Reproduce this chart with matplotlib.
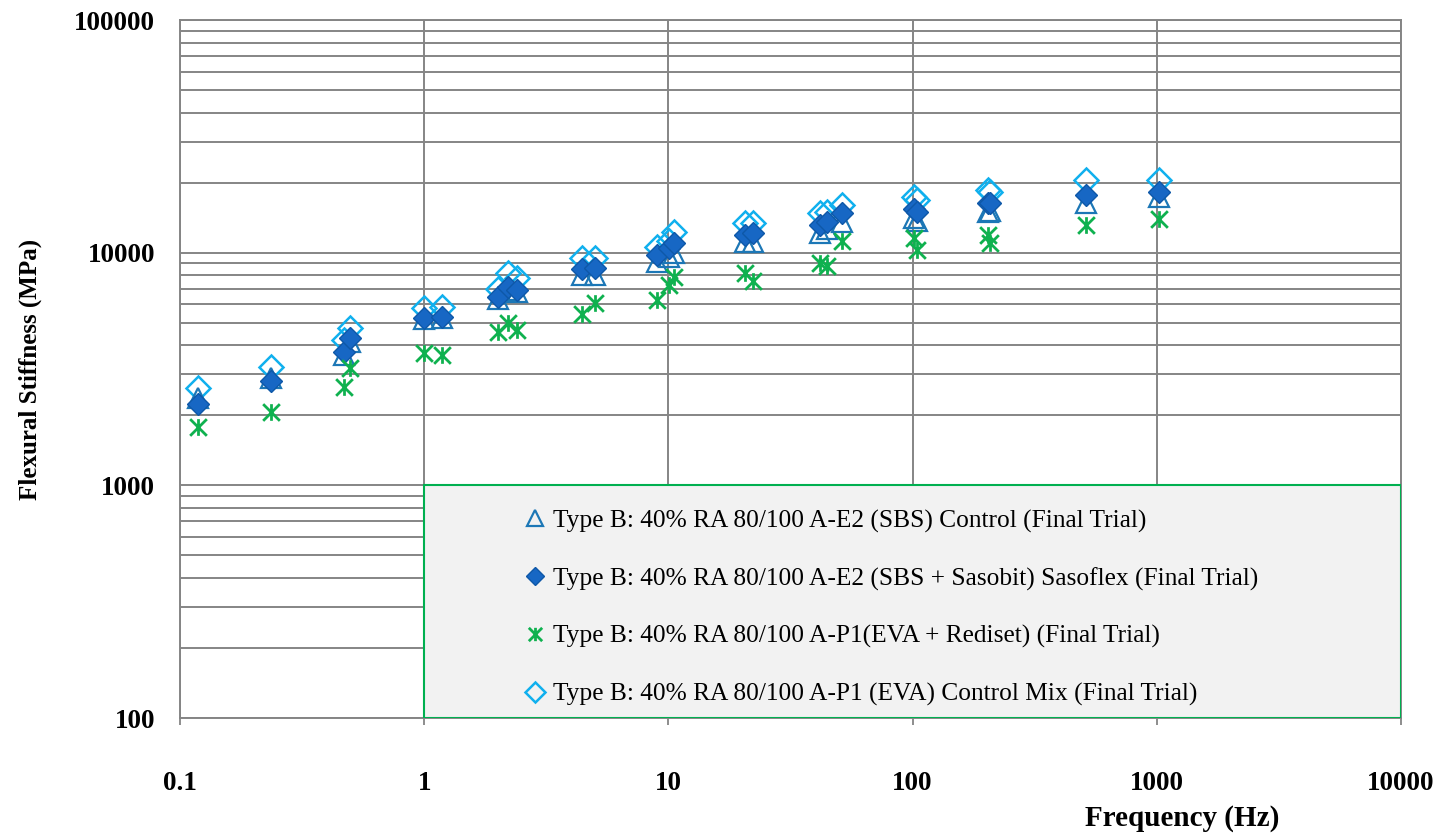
import matplotlib
matplotlib.use('Agg')
import matplotlib.pyplot as plt
from matplotlib.path import Path
from matplotlib.patches import Rectangle
from matplotlib.ticker import FixedLocator, FixedFormatter, LogLocator, NullFormatter

plt.rcParams['font.family'] = ['Liberation Serif', 'DejaVu Serif']

# test frequencies (Hz)
freq = [0.118, 0.236, 0.471, 0.497, 1.0, 1.18, 2.0, 2.21, 2.39, 4.42, 5.0,
        8.95, 10.1, 10.5, 20.6, 22.3, 41.7, 44.5, 51.3, 101, 104, 204, 208, 513, 1021]

# flexural stiffness (MPa) for each mix
sbs_control = [2375, 2900, 3650, 4150, 5200, 5250, 6300, 6900, 6800, 8020, 8020,
               9150, 9610, 10000, 11150, 11150, 12120, 12700, 13600, 14050, 13700,
               15000, 15100, 16300, 17400]
sbs_sasobit = [2238, 2818, 3753, 4280, 5250, 5309, 6470, 7144, 6913, 8490, 8570,
               9775, 10500, 11000, 11920, 12120, 13150, 13590, 14770, 15370, 15000,
               16300, 16400, 17700, 18290]
eva_rediset = [1787, 2073, 2655, 3205, 3694, 3634, 4576, 5003, 4654, 5452, 6060,
               6263, 7265, 7840, 8155, 7580, 9060, 8770, 11260, 11530, 10270,
               11920, 10980, 13150, 13920]
eva_control = [2614, 3237, 4215, 4747, 5803, 5861, 6990, 8155, 7762, 9460, 9460,
               10610, 11200, 12310, 13380, 13460, 14770, 15010, 16030, 17400, 16900,
               18600, 18300, 20535, 20535]

labels = ['Type B: 40% RA 80/100 A-E2 (SBS) Control (Final Trial)',
          'Type B: 40% RA 80/100 A-E2 (SBS + Sasobit) Sasoflex (Final Trial)',
          'Type B: 40% RA 80/100 A-P1(EVA + Rediset) (Final Trial)',
          'Type B: 40% RA 80/100 A-P1 (EVA) Control Mix (Final Trial)']

x_ticks = [0.1, 1, 10, 100, 1000, 10000]
x_tick_labels = ['0.1', '1', '10', '100', '1000', '10000']
y_ticks = [100, 1000, 10000, 100000]
y_tick_labels = ['100', '1000', '10000', '100000']

# excel style star: an X with a vertical bar through it
star = Path([(-1, -1), (1, 1), (-1, 1), (1, -1), (0, -1), (0, 1)],
            [Path.MOVETO, Path.LINETO, Path.MOVETO, Path.LINETO, Path.MOVETO, Path.LINETO])

fig = plt.figure(figsize=(14.47, 8.35), dpi=100)
ax = fig.add_axes([180/1447, 1 - 718/835, 1221/1447, 698/835])

grid_col = '#858585'

# open diamonds first so the filled ones sit on top
p4, = ax.plot(freq, eva_control, linestyle='none', marker='D', markersize=12.5,
              markerfacecolor='none', markeredgecolor='#10b0ee', markeredgewidth=1.8, zorder=4)
p1, = ax.plot(freq, sbs_control, linestyle='none', marker='^', markersize=14,
              markerfacecolor='none', markeredgecolor='#1c77b6', markeredgewidth=1.6, zorder=5)
p2, = ax.plot(freq, sbs_sasobit, linestyle='none', marker='D', markersize=11.5,
              markerfacecolor='#1767c4', markeredgecolor='#0e58a8', markeredgewidth=1.0, zorder=6)
p3, = ax.plot(freq, eva_rediset, linestyle='none', marker=star, markersize=12,
              markeredgecolor='#0fb14f', markeredgewidth=2.0, zorder=7)

ax.set_xscale('log')
ax.set_yscale('log')
ax.set_xlim(0.1, 10000)
ax.set_ylim(100, 100000)

ax.xaxis.set_major_locator(FixedLocator(x_ticks))
ax.xaxis.set_major_formatter(FixedFormatter(x_tick_labels))
ax.xaxis.set_minor_locator(FixedLocator([]))
ax.yaxis.set_major_locator(FixedLocator(y_ticks))
ax.yaxis.set_major_formatter(FixedFormatter(y_tick_labels))
ax.yaxis.set_minor_locator(LogLocator(base=10, subs=range(2, 10)))
ax.yaxis.set_minor_formatter(NullFormatter())

ax.grid(True, which='major', axis='both', color=grid_col, linewidth=1.4)
ax.grid(True, which='minor', axis='y', color=grid_col, linewidth=1.4)
ax.set_axisbelow(True)
for s in ax.spines.values():
    s.set_color(grid_col)
    s.set_linewidth(1.4)

ax.tick_params(axis='x', which='major', length=5, width=1.3, color=grid_col, pad=33,
               labelsize=19.5)
ax.tick_params(axis='y', which='both', length=0, pad=18, labelsize=19.5)
for t in ax.get_xticklabels() + ax.get_yticklabels():
    t.set_fontweight('bold')

# legend panel in the lower right, from 1 Hz to the right edge
ax.add_patch(Rectangle((0.2, 0), 0.8, 1/3, transform=ax.transAxes, facecolor='#f2f2f2',
                       edgecolor='#00b050', linewidth=1.5, zorder=8))
leg = ax.legend([p1, p2, p3, p4], labels, loc='center left', bbox_to_anchor=(0.2817, 0.158),
                frameon=False, fontsize=18.3, handlelength=0.9, handletextpad=0.25,
                labelspacing=1.36, borderpad=0, borderaxespad=0, markerscale=0.8)
leg.set_zorder(9)

fig.text(1182/1447, 1 - 819/835, 'Frequency (Hz)', ha='center', va='center',
         fontsize=21, fontweight='bold')
fig.text(30/1447, 1 - 369/835, 'Flexural Stiffness (MPa)', ha='center', va='center',
         rotation=90, fontsize=18, fontweight='bold')

fig.savefig('out.png', dpi=100)
